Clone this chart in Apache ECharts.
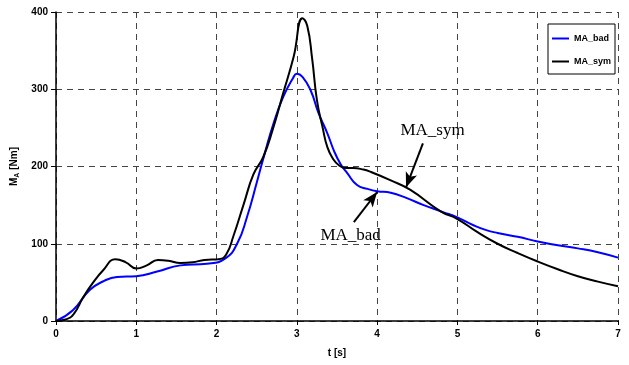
<!DOCTYPE html>
<html><head><meta charset="utf-8">
<script src="https://cdn.jsdelivr.net/npm/echarts@6/dist/echarts.min.js"></script>
<style>html,body{margin:0;padding:0;background:#fff}#c{width:629px;height:365px}</style>
</head><body><div id="c"></div>
<script>
const symT = [0,0.12,0.22,0.34,0.45,0.59,0.74,0.87,1.0,1.13,1.27,1.4,1.55,1.7,1.85,2.03,2.12,2.21,2.34,2.46,2.58,2.7,2.83,2.96,3.07,3.13,3.19,3.25,3.32,3.38,3.45,3.52,3.61,3.7,3.83,3.92,4.17,4.41,4.79,5.0,5.25,5.5,5.75,6.0,6.25,6.5,6.75,7.0];
const symV = [0,2,9,31,48,66,80,76,68,72,79,78,75,76,79,80,86,110,152,190,212,248,295,342,392,382,340,286,251,225,210,202,198,198,196,193,182,170,142,132,115,100,88,77,67,58,51,45];
const badT = [0,0.21,0.42,0.6,0.76,1.0,1.26,1.55,1.88,2.11,2.26,2.38,2.5,2.6,2.71,2.83,2.95,3.0,3.07,3.17,3.27,3.38,3.46,3.54,3.63,3.75,3.88,4.0,4.17,4.37,4.58,4.82,5.0,5.2,5.35,5.5,5.75,6.0,6.25,6.5,6.75,7.0];
const badV = [0,14,40,52,57,58,64,72,74,81,101,135,179,217,256,290,314,320,316,299,269,243,221,204,191,176,171,168,166,159,150,141,134,124,118,114,109,103,98,94,89,82];
const xTicks = [0,1,2,3,4,5,6,7];
const yTicks = [0,100,200,300,400];
const seriesNames = ['MA_bad','MA_sym'];
const annoText = ['MA_bad','MA_sym'];
const annoTextPos = [[3.67,111],[4.69,247]];
const annoArrows = [[[3.71,128],[4.0,167]],[[4.57,230],[4.36,173]]];

const zip = (t,v)=>t.map((x,i)=>[x,v[i]]);
const chart = echarts.init(document.getElementById('c'));
const gridLine = {show:true,lineStyle:{color:'#444',width:1,type:[6,5]}};
chart.setOption({
  animation:false,
  grid:{left:56,right:11,top:12,bottom:44},
  legend:{
    data:seriesNames, orient:'vertical', left:548, top:24,
    width:62, height:53,
    backgroundColor:'#fff', borderColor:'#000', borderWidth:1,
    padding:[10,4,8,4], itemGap:14,
    icon:'rect', itemWidth:17, itemHeight:2,
    textStyle:{fontFamily:'Liberation Sans',fontWeight:'bold',fontSize:9,color:'#000'}
  },
  xAxis:{type:'value',min:xTicks[0],max:xTicks[xTicks.length-1],interval:1,
    name:'t [s]',nameLocation:'middle',nameGap:27,
    nameTextStyle:{fontFamily:'Liberation Sans',fontWeight:'bold',fontSize:10,color:'#000'},
    axisLine:{show:true,onZero:false,lineStyle:{color:'#000',width:1.5}},
    axisTick:{show:true,inside:false,length:4,lineStyle:{color:'#000'}},
    axisLabel:{margin:8,fontFamily:'Liberation Sans',fontWeight:'bold',fontSize:10,color:'#000'},
    splitLine:gridLine},
  yAxis:{type:'value',min:yTicks[0],max:yTicks[yTicks.length-1],interval:100,
    name:'{m|M}{s|A}{m| [Nm]}',nameLocation:'middle',nameGap:33,
    nameTextStyle:{rich:{
      m:{fontFamily:'Liberation Sans',fontWeight:'bold',fontSize:10,color:'#000'},
      s:{fontFamily:'Liberation Sans',fontWeight:'bold',fontSize:7,color:'#000',padding:[5,0,0,0]}}},
    axisLine:{show:true,lineStyle:{color:'#000',width:1.5}},
    axisTick:{show:true,inside:false,length:5,lineStyle:{color:'#000'}},
    axisLabel:{margin:8,fontFamily:'Liberation Sans',fontWeight:'bold',fontSize:10,color:'#000'},
    splitLine:gridLine},
  series:[
    {name:seriesNames[0],type:'line',data:zip(badT,badV),smooth:0.5,showSymbol:false,symbol:'none',
      lineStyle:{color:'#0000ff',width:2},itemStyle:{color:'#0000ff'},z:2},
    {name:seriesNames[1],type:'line',data:zip(symT,symV),smooth:0.5,showSymbol:false,symbol:'none',
      lineStyle:{color:'#000',width:2},itemStyle:{color:'#000'},z:3,
      markLine:{silent:true,symbol:['none','arrow'],symbolSize:[9,15],
        lineStyle:{color:'#000',width:2,type:'solid'},label:{show:false},
        data:annoArrows.map(a=>[{coord:a[0]},{coord:a[1]}])},
      markPoint:{silent:true,symbol:'rect',symbolSize:1,itemStyle:{color:'rgba(0,0,0,0)'},
        label:{show:true,position:'inside',fontFamily:'Liberation Serif',fontSize:17,color:'#000'},
        data:annoText.map((t,i)=>({coord:annoTextPos[i],value:t,label:{formatter:t}}))}
    }
  ]
});
</script></body></html>
